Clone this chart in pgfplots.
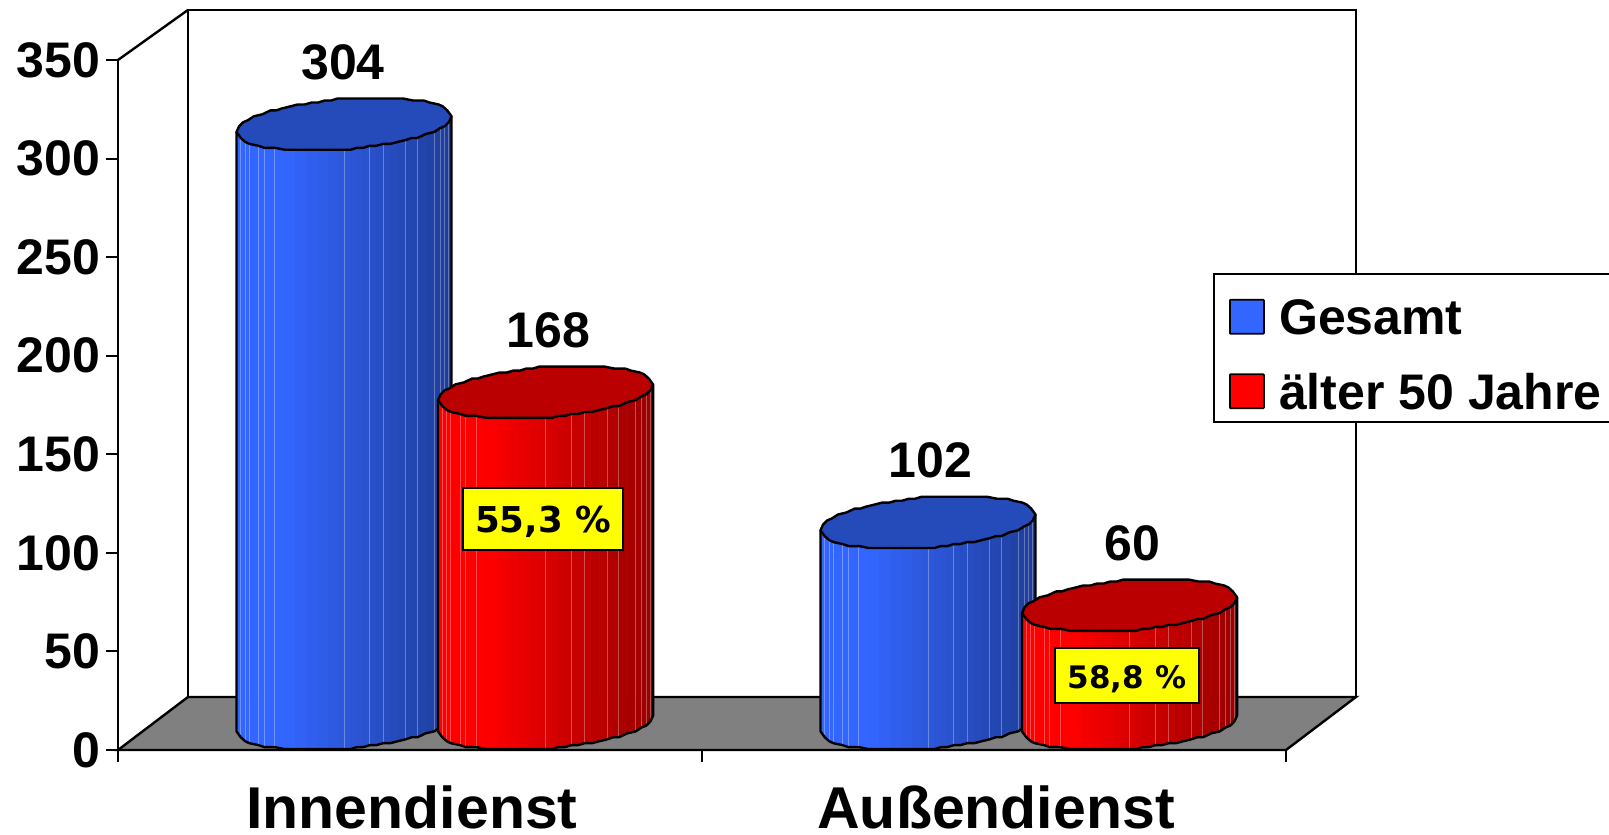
\documentclass[border=0pt]{standalone}
\usepackage{fontspec}
\setmainfont{Liberation Sans}
\newfontfamily\boxfont{DejaVu Sans}
\usepackage{pgfplots}
\pgfplotsset{compat=1.18}
\definecolor{barblue}{HTML}{3366FF}
\definecolor{barred}{HTML}{FF0000}
\definecolor{floorgrey}{HTML}{808080}
\definecolor{notebox}{HTML}{FFFF00}
\newcommand\bigbold{\fontsize{25pt}{30pt}\selectfont\bfseries}
\newcommand\catbold{\fontsize{29.5pt}{34pt}\selectfont\bfseries}
% facet positions across a cylinder, -1 (left edge) to 1 (right edge)
\newcommand\facetlist{-.96,-.919,-.88,-.794,-.741,-.642,-.55,-.45,-.35,-.25,-.15,-.05,0,.06,.12,.18,.24,.3,.364,.43,.5,.576,.63,.682,.76,.838,.894,.938,.975,1}
\newcommand\seamlist{-.96,-.919,-.88,-.794,-.741,-.642,0,.24,.364,.576,.682,.838,.894,.938,.975}
% cylinder: #1 centre on the x axis, #2 bar value, #3 base colour
% edge heights are snapped to a coarse step, which gives the faceted outline
\newcommand\cylinder[3]{%
  \pgfmathsetmacro\halfx{.1841}%
  \pgfmathsetmacro\ctrb{13.45}%
  \pgfmathsetmacro\ctrt{#2+13.45}%
  \pgfmathsetmacro\startb{\ctrb-4}%
  \pgfmathsetmacro\startt{\ctrt-4}%
  \pgfmathsetmacro\startx{#1-\halfx}%
  \xdef\baseedge{(\startx,\startb)}%
  \xdef\capfront{(\startx,\startt)}%
  \pgfmathsetmacro\endx{#1+\halfx}%
  \pgfmathsetmacro\endt{\ctrt+4}%
  \xdef\capback{(\endx,\endt)}%
  \foreach \u [remember=\u as \p (initially -1)] in \facetlist {%
    \pgfmathsetmacro\xa{#1+\halfx*\p}%
    \pgfmathsetmacro\xb{#1+\halfx*\u}%
    \pgfmathsetmacro\la{round(4.06*\p-12.84*sqrt(max(0,1-\p*\p)))}%
    \pgfmathsetmacro\lb{round(4.06*\u-12.84*sqrt(max(0,1-\u*\u)))}%
    \pgfmathsetmacro\ba{\ctrb+\la}%
    \pgfmathsetmacro\bb{\ctrb+\lb}%
    \pgfmathsetmacro\ta{\ctrt+\la}%
    \pgfmathsetmacro\tb{\ctrt+\lb}%
    \pgfmathsetmacro\tone{100-40*min(1,max(0,((\p+\u)/2+.55)/1.55))}%
    \edef\strip{\noexpand\addplot[fill={#3!\tone!black},draw={#3!\tone!black},line width=.3pt,forget plot]
      coordinates {(\xa,\ta)(\xb,\tb)(\xb,\bb)(\xa,\ba)} -- cycle;}%
    \strip
    \xdef\baseedge{\baseedge (\xb,\bb)}%
    \xdef\capfront{\capfront (\xb,\tb)}%
    \pgfmathsetmacro\xc{#1-\halfx*\u}%
    \pgfmathsetmacro\tc{\ctrt-\lb}%
    \xdef\capback{\capback (\xc,\tc)}%
  }%
  \foreach \u in \seamlist {%
    \pgfmathsetmacro\xa{#1+\halfx*\u}%
    \pgfmathsetmacro\la{round(4.06*\u-12.84*sqrt(max(0,1-\u*\u)))}%
    \pgfmathsetmacro\ba{\ctrb+\la}%
    \pgfmathsetmacro\ta{\ctrt+\la}%
    \edef\seam{\noexpand\addplot[white,opacity=.3,line width=.5pt,forget plot]
      coordinates {(\xa,\ta)(\xa,\ba)};}%
    \seam
  }%
  \edef\sil{\noexpand\addplot[black,line width=1.2pt,line join=round,forget plot]
    coordinates {(\startx,\startt)\baseedge (\endx,\endt)};}%
  \sil
  \edef\capdraw{\noexpand\addplot[draw=black,fill={#3!73!black},line width=1.2pt,line join=round,forget plot]
    coordinates {\capfront\capback} -- cycle;}%
  \capdraw
}
\begin{document}
\begin{tikzpicture}
\useasboundingbox (0,0) rectangle (804.5pt,417pt);
\begin{axis}[
  at={(59pt,42pt)}, anchor=south west,
  scale only axis, width=584pt, height=345pt,
  xmin=0, xmax=2, ymin=0, ymax=350,
  clip=false,
  axis x line*=bottom, axis y line*=left,
  axis line style={black,line width=1pt,-},
  /pgf/number format/assume math mode=true,
  ytick={0,50,100,150,200,250,300,350},
  xtick={0.5,1.5}, xticklabels={Innendienst,Außendienst},
  minor xtick={0,1,2},
  major x tick style={draw=none},
  minor x tick style={black,line width=1pt},
  y tick style={black,line width=1pt},
  tick align=outside,
  minor tick length=6pt, major tick length=6pt,
  yticklabel style={font=\bigbold,xshift=.5pt},
  xticklabel style={font=\catbold,anchor=base,inner sep=0pt,yshift=-33pt,xshift=1pt},
  legend style={at={(0.9375,0.6918)},anchor=north west,draw=black,line width=1pt,
    fill=white,font=\bigbold,inner xsep=7.5pt,inner ysep=4.5pt,row sep=9.15pt,
    nodes={text height=24.1pt,text depth=0pt}},
  legend cell align=left,
]
% back wall and floor of the chart box
\addplot[fill=white,draw=black,line width=1.2pt,forget plot] coordinates {(0.1199,26.9)(0.1199,375.4)(2.1199,375.4)(2.1199,26.9)} -- cycle;
\addplot[black,line width=1.2pt,forget plot] coordinates {(0,350)(0.1199,375.4)};
\addplot[fill=floorgrey,draw=black,line width=1.2pt,forget plot] coordinates {(0,0)(0.1199,26.9)(2.1199,26.9)(2,0)} -- cycle;
\cylinder{0.3870}{304}{barblue}
\cylinder{0.7321}{168}{barred}
\cylinder{1.3870}{102}{barblue}
\cylinder{1.7321}{60}{barred}
% value labels
\addplot[draw=none,forget plot,nodes near coords,point meta=explicit symbolic,
  every node near coord/.append style={font=\bigbold,anchor=base,yshift=35.6pt,inner sep=0pt}]
  coordinates {(0.3853,304)[304] (0.7375,168)[168] (1.3914,102)[102] (1.7363,60)[60]};
% share notes
\node[fill=notebox,draw=black,line width=1pt,minimum width=80pt,minimum height=31pt,inner sep=0pt] at (axis cs:0.7277,117.2) {};
\node[yshift=-1.6pt,inner sep=0pt,font=\boxfont\fontsize{17.8pt}{20pt}\selectfont\bfseries] at (axis cs:0.7277,117.2) {55,3 \%};
\node[fill=notebox,draw=black,line width=1pt,minimum width=72pt,minimum height=27.5pt,inner sep=0pt] at (axis cs:1.7277,37.7) {};
\node[yshift=-1.6pt,inner sep=0pt,font=\boxfont\fontsize{15.5pt}{18pt}\selectfont\bfseries] at (axis cs:1.7277,37.7) {58,8 \%};
\addlegendimage{legend image code/.code={\draw[black,fill=barblue,line width=.9pt,rounded corners=.4pt] (0pt,-11.5pt) rectangle (17pt,5.5pt);\path[draw=none] (0pt,0pt) -- (22.6pt,0pt);}}
\addlegendentry{Gesamt}
\addlegendimage{legend image code/.code={\draw[black,fill=barred,line width=.9pt,rounded corners=.4pt] (0pt,-11.5pt) rectangle (17pt,5.5pt);\path[draw=none] (0pt,0pt) -- (22.6pt,0pt);}}
\addlegendentry{älter 50 Jahre}
\end{axis}
\end{tikzpicture}
\end{document}
